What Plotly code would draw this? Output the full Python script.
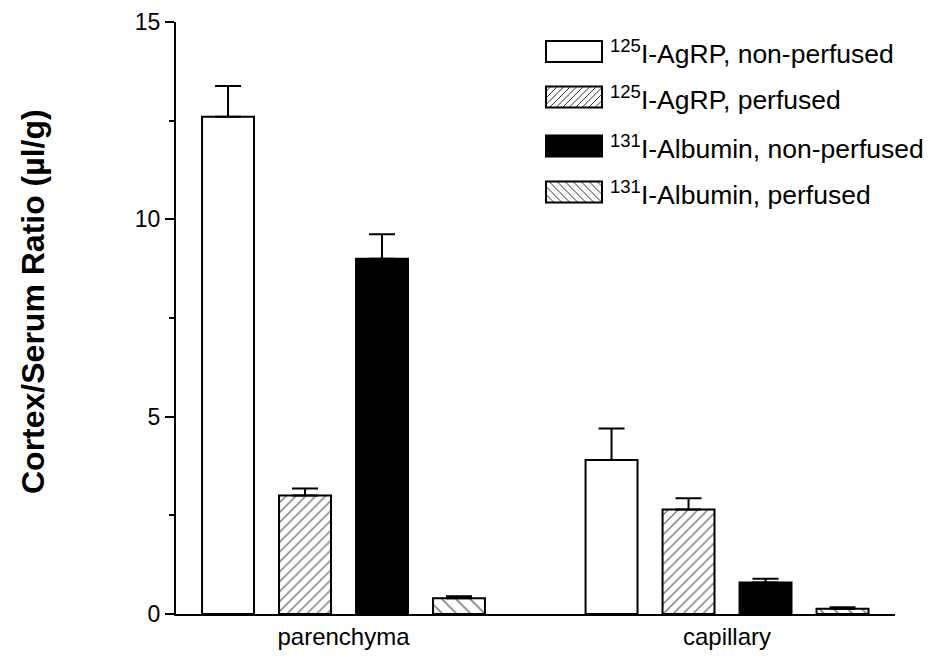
import plotly.graph_objects as go

categories = ["parenchyma", "capillary"]
series_names = [
    "<sup>125</sup>I-AgRP, non-perfused",
    "<sup>125</sup>I-AgRP, perfused",
    "<sup>131</sup>I-Albumin, non-perfused",
    "<sup>131</sup>I-Albumin, perfused",
]
agrp_nonperf = [12.6, 3.9]
agrp_nonperf_err = [0.78, 0.8]
agrp_perf = [3.0, 2.65]
agrp_perf_err = [0.18, 0.28]
alb_nonperf = [9.0, 0.8]
alb_nonperf_err = [0.62, 0.09]
alb_perf = [0.4, 0.13]
alb_perf_err = [0.05, 0.04]
y_ticks = [0, 5, 10, 15]

FONT = "Arial, Liberation Sans, sans-serif"

# page has an 8px body margin; size the figure so it fits the 938x661 window
OFF = 8
W, H = 938 - 2 * OFF, 661 - 2 * OFF
# plot area in screen pixels
SL, SR, ST, SB = 176, 895, 22, 614
L, T = SL - OFF, ST - OFF
R = (OFF + W) - SR
B = (OFF + H) - SB
PW, PH = SR - SL, SB - ST


def px(x):
    return (x - SL) / PW


def py(y):
    return (SB - y) / PH


fig = go.Figure()

styles = [
    dict(color="white", pattern=None),
    dict(color="white", pattern=dict(shape="/", size=7, solidity=0.22, fgcolor="black", bgcolor="white")),
    dict(color="black", pattern=None),
    dict(color="white", pattern=dict(shape="\\", size=10, solidity=0.17, fgcolor="black", bgcolor="white")),
]
vals = [agrp_nonperf, agrp_perf, alb_nonperf, alb_perf]
errs = [agrp_nonperf_err, agrp_perf_err, alb_nonperf_err, alb_perf_err]

for name, v, e, st in zip(series_names, vals, errs, styles):
    marker = dict(color=st["color"], line=dict(color="black", width=2))
    if st["pattern"]:
        marker["pattern"] = st["pattern"]
    fig.add_trace(go.Bar(
        x=categories, y=v, name=name, marker=marker,
        error_y=dict(type="data", array=e, arrayminus=[0] * len(e), symmetric=False,
                     color="black", thickness=2, width=13),
        showlegend=False,
    ))

shapes = []
annotations = []


def hatch(x0, y0, x1, y1, d, direction):
    segs = []
    if direction == "/":
        k = x0 + y0 - (y1 - y0)
        while k < x1 + y1 + d:
            a = max(x0, k - y1)
            b = min(x1, k - y0)
            if b > a:
                segs.append((a, k - a, b, k - b))
            k += d
    else:
        k = x0 - y1
        while k < x1 - y0 + d:
            a = max(x0, k + y0)
            b = min(x1, k + y1)
            if b > a:
                segs.append((a, a - k, b, b - k))
            k += d
    return segs


row_y = [51.5, 97, 146, 192]
sx0, sx1, sh = 546, 602, 21
legend_hatch = [None, ("/", 6.5), None, ("\\", 8)]
legend_fill = ["white", "white", "black", "white"]
for name, cy, hinfo, fill in zip(series_names, row_y, legend_hatch, legend_fill):
    y0, y1 = cy - sh / 2, cy + sh / 2
    if hinfo:
        for (a, ay, b, by) in hatch(sx0, y0, sx1, y1, hinfo[1], hinfo[0]):
            shapes.append(dict(type="line", xref="paper", yref="paper",
                               x0=px(a), y0=py(ay), x1=px(b), y1=py(by),
                               line=dict(color="#333", width=1)))
    shapes.append(dict(type="rect", xref="paper", yref="paper",
                       x0=px(sx0), x1=px(sx1), y0=py(y1), y1=py(y0),
                       fillcolor=fill if fill == "black" else "rgba(0,0,0,0)",
                       line=dict(color="black", width=2), layer="above"))
    annotations.append(dict(xref="paper", yref="paper", x=px(608), y=py(cy + 0.5),
                            xanchor="left", yanchor="middle", showarrow=False,
                            text=name, font=dict(family=FONT, size=26.5, color="black")))

annotations.append(dict(xref="paper", yref="paper", x=px(33), y=py(302),
                        xanchor="center", yanchor="middle", showarrow=False, textangle=-90,
                        text="<b>Cortex/Serum Ratio (µl/g)</b>",
                        font=dict(family=FONT, size=32, color="black")))

fig.update_layout(
    width=W, height=H,
    margin=dict(l=L, r=R, t=T, b=B, pad=0, autoexpand=False),
    paper_bgcolor="white", plot_bgcolor="white",
    barmode="group", bargap=0.197, bargroupgap=0.325,
    shapes=shapes, annotations=annotations,
    showlegend=False,
    font=dict(family=FONT, color="black"),
)
fig.update_xaxes(
    type="category", range=[-0.4368, 1.438], automargin=False,
    showline=True, linecolor="black", linewidth=2,
    ticks="", showgrid=False, zeroline=False,
    tickfont=dict(family=FONT, size=24, color="black"),
)
fig.update_yaxes(
    range=[0, 15], tickvals=y_ticks, automargin=False,
    showline=True, linecolor="black", linewidth=2,
    ticks="outside", ticklen=9, tickwidth=2, tickcolor="black",
    minor=dict(ticks="outside", ticklen=5, tickwidth=2, tickcolor="black", dtick=2.5, tick0=0),
    showgrid=False, zeroline=False,
    tickfont=dict(family=FONT, size=23, color="black"),
)

fig.write_html("out.html")
